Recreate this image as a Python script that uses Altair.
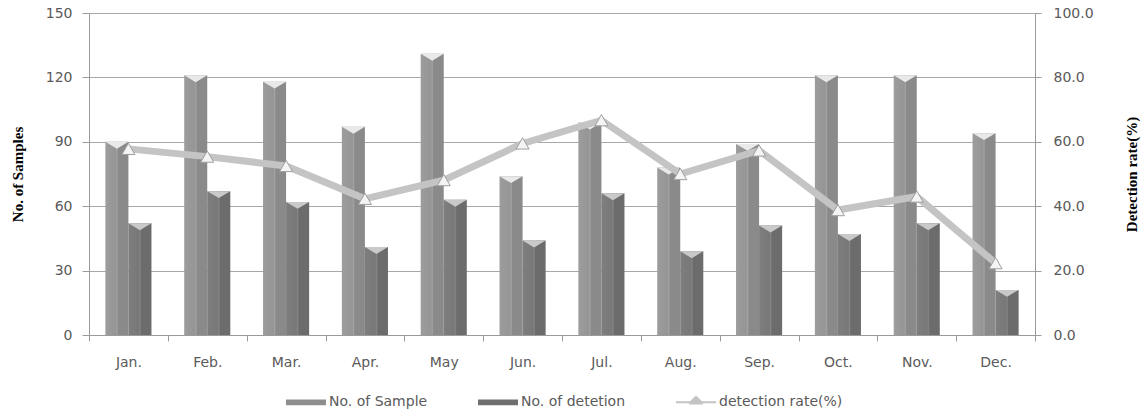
import altair as alt
import pandas as pd

months = ["Jan.", "Feb.", "Mar.", "Apr.", "May", "Jun.", "Jul.", "Aug.", "Sep.", "Oct.", "Nov.", "Dec."]
samples = [90, 121, 118, 97, 131, 74, 99, 78, 89, 121, 121, 94]
detections = [52, 67, 62, 41, 63, 44, 66, 39, 51, 47, 52, 21]
rates = [57.8, 55.4, 52.5, 42.3, 48.1, 59.5, 66.7, 50.0, 57.3, 38.8, 43.0, 22.3]

series_names = ["No. of Sample", "No. of detetion", "detection rate(%)"]
series_colors = ["#8e8e8e", "#6f6f6f", "#c3c3c3"]
left_ticks = [0, 30, 60, 90, 120, 150]
right_ticks = [0, 20, 40, 60, 80, 100]

bars_df = pd.DataFrame(
    [{"month": m, "series": series_names[0], "value": v} for m, v in zip(months, samples)]
    + [{"month": m, "series": series_names[1], "value": v} for m, v in zip(months, detections)]
)
rate_df = pd.DataFrame({"month": months, "rate": rates})
legend_df = pd.DataFrame({"series": series_names})

FONT = "DejaVu Sans"
TITLE_FONT = "Liberation Serif"
LABEL_COLOR = "#5a5a5a"
LINE_GREY = "#9a9a9a"

x_enc = alt.X(
    "month:N",
    sort=months,
    scale=alt.Scale(domain=months, paddingInner=0, paddingOuter=0),
    axis=alt.Axis(
        title=None, labelAngle=0, tickBand="extent", tickSize=6, labelPadding=14,
        domainColor=LINE_GREY, tickColor=LINE_GREY, labelColor=LABEL_COLOR,
        labelFont=FONT, labelFontSize=14, grid=False,
    ),
)
xoff_enc = alt.XOffset(
    "series:N",
    scale=alt.Scale(domain=series_names[:2], paddingInner=0, paddingOuter=0.71),
)
y_left = alt.Y(
    "value:Q",
    scale=alt.Scale(domain=[0, 150], nice=False),
    axis=alt.Axis(
        title="No. of Samples", values=left_ticks, format="d",
        grid=True, gridColor="#a8a8a8", domainColor=LINE_GREY, tickColor=LINE_GREY,
        tickSize=7, labelPadding=10, labelColor=LABEL_COLOR, labelFont=FONT, labelFontSize=14,
        titleFont=TITLE_FONT, titleFontSize=15, titleFontWeight="bold", titleColor="#000000",
        titleAngle=-90, titleX=-72, titleY=161, titleAlign="center", titleBaseline="middle",
    ),
)

def grad(c_left, c_mid, c_hi, c_right):
    return alt.Gradient(
        gradient="linear", x1=0, x2=1, y1=0, y2=0,
        stops=[
            alt.GradientStop(offset=0, color=c_left),
            alt.GradientStop(offset=0.45, color=c_mid),
            alt.GradientStop(offset=0.5, color=c_hi),
            alt.GradientStop(offset=0.56, color=c_right),
            alt.GradientStop(offset=1, color=c_right),
        ],
    )

sample_bars = alt.Chart(bars_df).transform_filter(
    alt.datum.series == series_names[0]
).mark_bar(fill=grad("#9d9d9d", "#959595", "#a3a3a3", "#8a8a8a")).encode(
    x=x_enc, xOffset=xoff_enc, y=y_left
)
detect_bars = alt.Chart(bars_df).transform_filter(
    alt.datum.series == series_names[1]
).mark_bar(fill=grad("#7e7e7e", "#787878", "#858585", "#6c6c6c")).encode(
    x=x_enc, xOffset=xoff_enc, y=y_left
)

notch_path = "M-1,0L1,0L0,0.6Z"
sample_notch = alt.Chart(bars_df).transform_filter(
    alt.datum.series == series_names[0]
).mark_point(shape=notch_path, filled=True, fill="#e9e9e9", opacity=1, size=529, strokeWidth=0).encode(
    x=x_enc, xOffset=xoff_enc, y=y_left
)
detect_notch = alt.Chart(bars_df).transform_filter(
    alt.datum.series == series_names[1]
).mark_point(shape=notch_path, filled=True, fill="#c9c9c9", opacity=1, size=529, strokeWidth=0).encode(
    x=x_enc, xOffset=xoff_enc, y=y_left
)

y_right = alt.Y(
    "rate:Q",
    scale=alt.Scale(domain=[0, 100], nice=False),
    axis=alt.Axis(
        orient="right", title="Detection rate(%)", values=right_ticks, format=".1f",
        grid=False, domainColor=LINE_GREY, tickColor=LINE_GREY, tickSize=6, labelPadding=12,
        labelColor=LABEL_COLOR, labelFont=FONT, labelFontSize=14,
        titleFont=TITLE_FONT, titleFontSize=15, titleFontWeight="bold", titleColor="#000000",
        titleAngle=-90, titleX=96, titleY=161, titleAlign="center", titleBaseline="middle",
    ),
)

rate_line = alt.Chart(rate_df).mark_line(color="#c4c4c4", strokeWidth=7).encode(x=x_enc, y=y_right)
rate_pts = alt.Chart(rate_df).mark_point(
    shape="triangle-up", filled=True, fill="#f4f4f4", stroke="#9e9e9e", strokeWidth=1, size=170, opacity=1
).encode(x=x_enc, y=y_right)

bar_sym = "M-1,-0.12L1,-0.12L1,0.16L-1,0.16Z"
line_sym = "M-1,-0.04L-0.3,-0.04L0,-0.32L0.3,-0.04L1,-0.04L1,0.06L0.34,0.06L0.34,0.12L-0.34,0.12L-0.34,0.06L-1,0.06Z"
legend_layer = alt.Chart(legend_df).mark_point(filled=True, opacity=0).encode(
    color=alt.Color(
        "series:N",
        scale=alt.Scale(domain=series_names, range=series_colors),
        legend=alt.Legend(
            title=None, orient="none", direction="horizontal", legendX=197, legendY=369,
            symbolSize=1600, symbolOpacity=1, symbolStrokeWidth=0, labelOffset=3,
            columnPadding=50, padding=0, labelFont=FONT, labelFontSize=14, labelColor=LABEL_COLOR,
        ),
    ),
    shape=alt.Shape(
        "series:N",
        scale=alt.Scale(domain=series_names, range=[bar_sym, bar_sym, line_sym]),
        legend=alt.Legend(
            title=None, orient="none", direction="horizontal", legendX=197, legendY=369,
            symbolSize=1600, symbolOpacity=1, symbolStrokeWidth=0, labelOffset=3,
            columnPadding=50, padding=0, labelFont=FONT, labelFontSize=14, labelColor=LABEL_COLOR,
        ),
    ),
)

left_layer = alt.layer(sample_bars, detect_bars, sample_notch, detect_notch)
right_layer = alt.layer(rate_line, rate_pts)

chart = alt.layer(left_layer, right_layer, legend_layer).resolve_scale(
    y="independent"
).properties(
    width=946, height=322,
    autosize=alt.AutoSizeParams(type="none"),
    padding={"left": 89, "top": 13, "right": 113, "bottom": 79},
    background="white",
).configure_view(stroke=None)

chart.save("out.html", embed_options={"renderer": "svg", "actions": False})
